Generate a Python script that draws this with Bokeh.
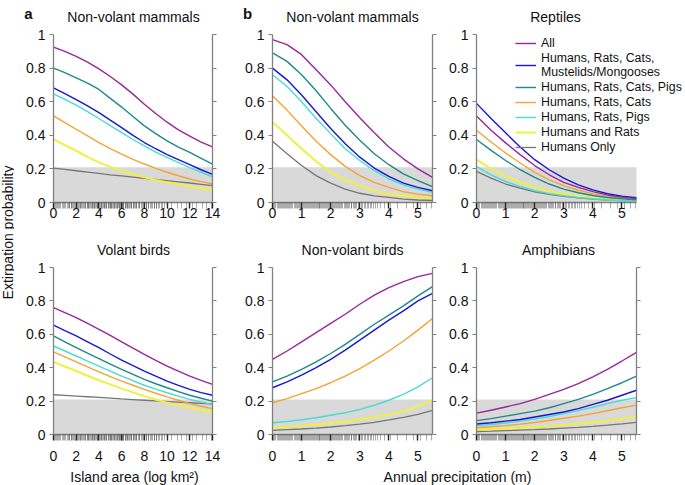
import math
from bokeh.plotting import figure
from bokeh.models import (Range1d, FixedTicker, LinearAxis, BoxAnnotation, Label,
                          Legend, LegendItem)
from bokeh.layouts import row, column
from bokeh.embed import file_html
from bokeh.resources import INLINE

FONT = "Liberation Sans"

# ---------------- data ----------------
SERIES = ["All", "Humans, Rats, Cats,\nMustelids/Mongooses", "Humans, Rats, Cats, Pigs",
          "Humans, Rats, Cats", "Humans, Rats, Pigs", "Humans and Rats", "Humans Only"]
COLORS = ["#9b259b", "#1717d4", "#1c8a8a", "#f5a332", "#48dcd4", "#f2f03e", "#767676"]
WIDTHS = [1.4, 1.4, 1.4, 1.4, 1.4, 2.0, 1.3]

AREA_X = [0, 1, 2, 3, 4, 5, 6, 7, 8, 9, 10, 11, 12, 13, 14]
PRECIP_X = [0, 0.5, 1, 1.5, 2, 2.5, 3, 3.5, 4, 4.5, 5, 5.5]
AREA_TICKS = [0, 2, 4, 6, 8, 10, 12, 14]
PRECIP_TICKS = [0, 1, 2, 3, 4, 5]
Y_TICKS = [0, 0.2, 0.4, 0.6, 0.8, 1]
Y_TICK_LABELS = ["0", "0.2", "0.4", "0.6", "0.8", "1"]
THRESHOLD = 0.21
AREA_MAX = 14
PRECIP_MAX = 5.5

# series order follows SERIES
mammals_area = [
    [0.925, 0.90, 0.87, 0.835, 0.795, 0.75, 0.70, 0.645, 0.585, 0.53, 0.478, 0.432, 0.395, 0.36, 0.331],
    [0.682, 0.648, 0.613, 0.575, 0.535, 0.49, 0.446, 0.40, 0.357, 0.32, 0.285, 0.255, 0.225, 0.195, 0.168],
    [0.80, 0.773, 0.742, 0.71, 0.673, 0.62, 0.568, 0.512, 0.456, 0.41, 0.367, 0.33, 0.298, 0.262, 0.229],
    [0.515, 0.476, 0.436, 0.396, 0.357, 0.321, 0.288, 0.257, 0.229, 0.203, 0.18, 0.159, 0.14, 0.124, 0.11],
    [0.647, 0.614, 0.58, 0.541, 0.50, 0.458, 0.416, 0.375, 0.337, 0.30, 0.268, 0.238, 0.208, 0.18, 0.153],
    [0.377, 0.342, 0.308, 0.272, 0.239, 0.212, 0.189, 0.168, 0.15, 0.134, 0.12, 0.108, 0.097, 0.086, 0.075],
    [0.205, 0.197, 0.189, 0.181, 0.173, 0.165, 0.158, 0.151, 0.144, 0.137, 0.13, 0.123, 0.116, 0.108, 0.10],
]
birds_area = [
    [0.76, 0.73, 0.70, 0.665, 0.63, 0.593, 0.555, 0.517, 0.48, 0.444, 0.41, 0.379, 0.35, 0.324, 0.30],
    [0.655, 0.622, 0.59, 0.555, 0.52, 0.482, 0.445, 0.412, 0.38, 0.35, 0.32, 0.294, 0.27, 0.251, 0.235],
    [0.59, 0.555, 0.52, 0.487, 0.455, 0.422, 0.39, 0.36, 0.33, 0.304, 0.28, 0.257, 0.235, 0.217, 0.20],
    [0.495, 0.465, 0.435, 0.405, 0.375, 0.347, 0.32, 0.295, 0.27, 0.247, 0.225, 0.205, 0.185, 0.169, 0.155],
    [0.53, 0.50, 0.47, 0.44, 0.41, 0.38, 0.35, 0.322, 0.295, 0.272, 0.25, 0.23, 0.21, 0.194, 0.18],
    [0.435, 0.407, 0.38, 0.352, 0.325, 0.30, 0.275, 0.252, 0.23, 0.21, 0.19, 0.175, 0.16, 0.147, 0.135],
    [0.238, 0.234, 0.23, 0.226, 0.222, 0.218, 0.213, 0.209, 0.205, 0.201, 0.197, 0.194, 0.19, 0.186, 0.183],
]
mammals_precip = [
    [0.97, 0.94, 0.88, 0.79, 0.70, 0.60, 0.505, 0.415, 0.33, 0.26, 0.20, 0.15],
    [0.80, 0.73, 0.64, 0.54, 0.44, 0.35, 0.27, 0.205, 0.155, 0.115, 0.09, 0.07],
    [0.89, 0.84, 0.76, 0.665, 0.56, 0.46, 0.37, 0.29, 0.225, 0.17, 0.13, 0.095],
    [0.635, 0.55, 0.455, 0.365, 0.285, 0.215, 0.16, 0.12, 0.09, 0.065, 0.05, 0.04],
    [0.76, 0.69, 0.60, 0.50, 0.41, 0.32, 0.25, 0.19, 0.14, 0.105, 0.08, 0.06],
    [0.48, 0.40, 0.32, 0.245, 0.18, 0.135, 0.10, 0.07, 0.05, 0.04, 0.03, 0.025],
    [0.365, 0.29, 0.22, 0.16, 0.115, 0.08, 0.055, 0.04, 0.03, 0.02, 0.015, 0.012],
]
reptiles_precip = [
    [0.515, 0.43, 0.355, 0.285, 0.22, 0.165, 0.12, 0.09, 0.065, 0.045, 0.032, 0.024],
    [0.59, 0.50, 0.415, 0.33, 0.255, 0.195, 0.145, 0.105, 0.075, 0.052, 0.037, 0.028],
    [0.375, 0.31, 0.25, 0.195, 0.15, 0.11, 0.08, 0.058, 0.042, 0.03, 0.022, 0.016],
    [0.43, 0.36, 0.295, 0.235, 0.18, 0.135, 0.10, 0.073, 0.053, 0.038, 0.027, 0.02],
    [0.215, 0.165, 0.125, 0.095, 0.07, 0.053, 0.04, 0.03, 0.022, 0.016, 0.012, 0.009],
    [0.255, 0.20, 0.155, 0.12, 0.09, 0.067, 0.05, 0.037, 0.027, 0.02, 0.015, 0.012],
    [0.185, 0.145, 0.11, 0.085, 0.064, 0.048, 0.036, 0.027, 0.02, 0.015, 0.011, 0.008],
]
birds_precip = [
    [0.45, 0.50, 0.555, 0.61, 0.665, 0.72, 0.78, 0.835, 0.88, 0.915, 0.945, 0.965],
    [0.28, 0.315, 0.355, 0.40, 0.45, 0.505, 0.565, 0.625, 0.685, 0.74, 0.80, 0.845],
    [0.315, 0.35, 0.39, 0.435, 0.485, 0.54, 0.60, 0.66, 0.715, 0.77, 0.83, 0.885],
    [0.19, 0.215, 0.245, 0.275, 0.31, 0.35, 0.395, 0.445, 0.50, 0.56, 0.625, 0.695],
    [0.07, 0.078, 0.088, 0.10, 0.115, 0.13, 0.15, 0.175, 0.205, 0.24, 0.285, 0.34],
    [0.04, 0.045, 0.052, 0.06, 0.068, 0.078, 0.09, 0.105, 0.12, 0.14, 0.17, 0.205],
    [0.025, 0.029, 0.033, 0.038, 0.045, 0.053, 0.062, 0.073, 0.087, 0.103, 0.12, 0.145],
]
amphibians_precip = [
    [0.128, 0.145, 0.165, 0.185, 0.21, 0.24, 0.27, 0.305, 0.345, 0.39, 0.44, 0.492],
    [0.063, 0.07, 0.08, 0.09, 0.105, 0.12, 0.135, 0.155, 0.18, 0.205, 0.235, 0.265],
    [0.083, 0.095, 0.11, 0.125, 0.14, 0.16, 0.185, 0.21, 0.24, 0.275, 0.31, 0.35],
    [0.04, 0.046, 0.053, 0.062, 0.072, 0.084, 0.097, 0.11, 0.125, 0.142, 0.16, 0.176],
    [0.053, 0.06, 0.069, 0.08, 0.093, 0.108, 0.125, 0.143, 0.163, 0.185, 0.205, 0.221],
    [0.028, 0.031, 0.035, 0.04, 0.045, 0.05, 0.057, 0.064, 0.073, 0.083, 0.095, 0.107],
    [0.018, 0.02, 0.023, 0.026, 0.029, 0.033, 0.038, 0.043, 0.049, 0.056, 0.064, 0.073],
]

AREA_RUG = [0.05, 0.15, 0.25, 0.35, 0.45, 0.55, 0.65, 0.8, 0.9, 0.95, 1.1, 1.2, 1.3, 1.4,
            1.45, 1.55, 1.6, 1.7, 1.75, 1.85, 1.9, 2.05, 2.1, 2.2, 2.25, 2.35, 2.4, 2.5,
            2.55, 2.65, 2.7, 2.8, 2.85, 2.95, 3.0, 3.05, 3.1, 3.2, 3.25, 3.35, 3.4, 3.45,
            3.5, 3.6, 3.65, 3.7, 3.8, 3.85, 3.9, 4.0, 4.05, 4.15, 4.2, 4.25, 4.3, 4.4,
            4.45, 4.5, 4.6, 4.65, 4.7, 4.8, 4.85, 4.9, 5.0, 5.05, 5.1, 5.15, 5.2, 5.3,
            5.35, 5.4, 5.45, 5.55, 5.6, 5.65, 5.7, 5.8, 5.85, 5.9, 5.95, 6.05, 6.1, 6.15,
            6.2, 6.3, 6.35, 6.45, 6.5, 6.55, 6.6, 6.7, 6.75, 6.85, 6.9, 7.0, 7.05, 7.15,
            7.2, 7.3, 7.35, 7.45, 7.55, 7.6, 7.75, 7.85, 7.9, 8.05, 8.15, 8.2, 8.35, 8.4,
            8.55, 8.65, 8.7, 8.85, 8.9, 9.05, 9.1, 9.25, 9.3, 9.5, 9.6, 9.75, 10.0, 10.4,
            10.9, 11.3, 11.7, 12.2, 12.6, 13.1, 13.5, 13.9]
PRECIP_RUG = [0.03, 0.08, 0.12, 0.16, 0.2, 0.24, 0.27, 0.3, 0.33, 0.37, 0.4, 0.44, 0.48,
              0.52, 0.55, 0.6, 0.62, 0.66, 0.7, 0.74, 0.78, 0.81, 0.85, 0.88, 0.92, 0.96,
              1.0, 1.03, 1.05, 1.09, 1.12, 1.16, 1.2, 1.23, 1.26, 1.3, 1.33, 1.37, 1.4,
              1.43, 1.47, 1.5, 1.53, 1.57, 1.6, 1.63, 1.66, 1.7, 1.73, 1.77, 1.8, 1.83,
              1.86, 1.9, 1.93, 1.96, 2.0, 2.03, 2.06, 2.09, 2.12, 2.16, 2.2, 2.24, 2.27,
              2.31, 2.35, 2.38, 2.42, 2.46, 2.5, 2.54, 2.58, 2.62, 2.65, 2.7, 2.73, 2.78,
              2.82, 2.86, 2.9, 2.95, 3.0, 3.05, 3.1, 3.15, 3.2, 3.25, 3.3, 3.36, 3.42,
              3.48, 3.55, 3.62, 3.7, 3.85, 4.05, 4.3, 4.6, 4.85, 5.1, 5.3, 5.45]

AXIS_GRAY = "#808080"
BAND_COLOR = "#d9d9d9"
TEXT_COLOR = "#111111"
DRAW_ORDER = [6, 5, 4, 3, 2, 1, 0]


def make_panel(xs, values, x_max, x_ticks, rug, geom, right_axis=True, x_standoff=0,
               legend=False, view_end=None):
    bl, fw, br, bt, fh, bb = geom
    p = figure(frame_width=fw, frame_height=fh, min_border_left=bl, min_border_right=br,
               min_border_top=bt, min_border_bottom=bb,
               x_range=Range1d(0, view_end if view_end else x_max), y_range=Range1d(0, 1),
               x_axis_type=None, y_axis_type=None, output_backend="svg",
               toolbar_location=None, outline_line_color=None)
    p.add_layout(BoxAnnotation(left=0, right=x_max, bottom=0, top=THRESHOLD,
                               fill_color=BAND_COLOR, fill_alpha=1, line_color=None,
                               level="underlay"))
    rends = {}
    for i in DRAW_ORDER:
        rends[i] = p.line(xs, values[i], line_color=COLORS[i], line_width=WIDTHS[i])

    xa = LinearAxis(ticker=FixedTicker(ticks=x_ticks, minor_ticks=rug), bounds=(0, x_max))
    xa.axis_line_color = AXIS_GRAY
    xa.axis_line_width = 1.3
    xa.major_tick_out = 6
    xa.major_tick_in = 0
    xa.major_tick_line_color = "#222222"
    xa.major_tick_line_width = 1.4
    xa.minor_tick_out = 6
    xa.minor_tick_in = 0
    xa.minor_tick_line_color = "#333333"
    xa.minor_tick_line_alpha = 0.45
    xa.minor_tick_line_width = 0.9
    xa.major_label_standoff = x_standoff
    xa.major_label_text_font = FONT
    xa.major_label_text_font_size = "14px"
    xa.major_label_text_color = TEXT_COLOR
    p.add_layout(xa, "below")

    ya = LinearAxis(ticker=FixedTicker(ticks=Y_TICKS),
                    major_label_overrides=dict(zip(Y_TICKS, Y_TICK_LABELS)))
    ya.axis_line_color = AXIS_GRAY
    ya.axis_line_width = 1.3
    ya.major_tick_out = 4
    ya.major_tick_in = 0
    ya.major_tick_line_color = AXIS_GRAY
    ya.major_tick_line_width = 1.2
    ya.major_label_standoff = 4
    ya.major_label_text_font = FONT
    ya.major_label_text_font_size = "14px"
    ya.major_label_text_color = TEXT_COLOR
    p.add_layout(ya, "left")

    if right_axis:
        ra = LinearAxis(ticker=FixedTicker(ticks=Y_TICKS),
                        major_label_overrides={t: "" for t in Y_TICKS})
        ra.axis_line_color = AXIS_GRAY
        ra.axis_line_width = 1.3
        ra.major_tick_out = 4
        ra.major_tick_in = 0
        ra.major_tick_line_color = AXIS_GRAY
        ra.major_tick_line_width = 1.2
        ra.major_label_standoff = 0
        p.add_layout(ra, "right")

    if legend:
        items = [LegendItem(label=SERIES[i], renderers=[rends[i]]) for i in range(len(SERIES))]
        lg = Legend(items=items, location=(39, 48), background_fill_alpha=0,
                    border_line_color=None, label_text_font=FONT,
                    label_text_font_size="12.3px", label_text_color=TEXT_COLOR,
                    glyph_width=21, glyph_height=14, label_height=14, spacing=1,
                    padding=0, margin=0, label_standoff=5)
        p.add_layout(lg)
    return p


def strip(width, height, texts):
    s = figure(width=width, height=height, x_range=Range1d(0, 1), y_range=Range1d(0, 1),
               x_axis_type=None, y_axis_type=None, output_backend="svg",
               toolbar_location=None, outline_line_color=None, min_border=0)
    for (txt, x, y, size, style, angle, baseline) in texts:
        s.add_layout(Label(x=x, y=y, x_units="canvas", y_units="canvas", text=txt,
                           angle=angle, text_align="center", text_baseline=baseline,
                           text_font=FONT, text_font_size=size, text_font_style=style,
                           text_color=TEXT_COLOR))
    return s


# geometry: (left border, frame width, right border) and (top, frame height, bottom)
C1 = (39, 159, 18)
C2 = (42, 160, 14)
C3 = (30, 160, 48)
C3_WIDE = (30, 208, 0)
R1 = (9, 168, 38)
R2 = (9, 167, 33)
REPTILE_VIEW_END = PRECIP_MAX * C3_WIDE[1] / C3[1]

f1 = make_panel(AREA_X, mammals_area, AREA_MAX, AREA_TICKS, AREA_RUG, C1 + R1, x_standoff=-1)
f2 = make_panel(PRECIP_X, mammals_precip, PRECIP_MAX, PRECIP_TICKS, PRECIP_RUG, C2 + R1,
                x_standoff=-1)
f3 = make_panel(PRECIP_X, reptiles_precip, PRECIP_MAX, PRECIP_TICKS, PRECIP_RUG, C3_WIDE + R1,
                right_axis=False, legend=True, view_end=REPTILE_VIEW_END, x_standoff=-1)
f4 = make_panel(AREA_X, birds_area, AREA_MAX, AREA_TICKS, AREA_RUG, C1 + R2, x_standoff=10)
f5 = make_panel(PRECIP_X, birds_precip, PRECIP_MAX, PRECIP_TICKS, PRECIP_RUG, C2 + R2,
                x_standoff=10)
f6 = make_panel(PRECIP_X, amphibians_precip, PRECIP_MAX, PRECIP_TICKS, PRECIP_RUG, C3 + R2,
                x_standoff=10)

title_row1 = strip(670, 25, [
    ("a", 14, 13, "15px", "bold", 0, "alphabetic"),
    ("Non-volant mammals", 119, 16, "14px", "normal", 0, "middle"),
    ("b", 233, 13, "15px", "bold", 0, "alphabetic"),
    ("Non-volant mammals", 338, 16, "14px", "normal", 0, "middle"),
    ("Reptiles", 541, 16, "14px", "normal", 0, "middle"),
])
title_row2 = strip(670, 18, [
    ("Volant birds", 119, 9, "14px", "normal", 0, "middle"),
    ("Non-volant birds", 338, 9, "14px", "normal", 0, "middle"),
    ("Amphibians", 544, 9, "14px", "normal", 0, "middle"),
])
xlab = strip(670, 18, [
    ("Island area (log km\u00b2)", 120, 9, "14px", "normal", 0, "middle"),
    ("Annual precipitation (m)", 443, 9, "14px", "normal", 0, "middle"),
])
ylab = strip(14, 485, [
    ("Extirpation probability", 7, 232, "14px", "normal", math.pi / 2, "middle"),
])

layout = row(ylab, column(title_row1, row(f1, f2, f3), title_row2, row(f4, f5, f6), xlab))

open("out.html", "w").write(file_html(layout, INLINE))
